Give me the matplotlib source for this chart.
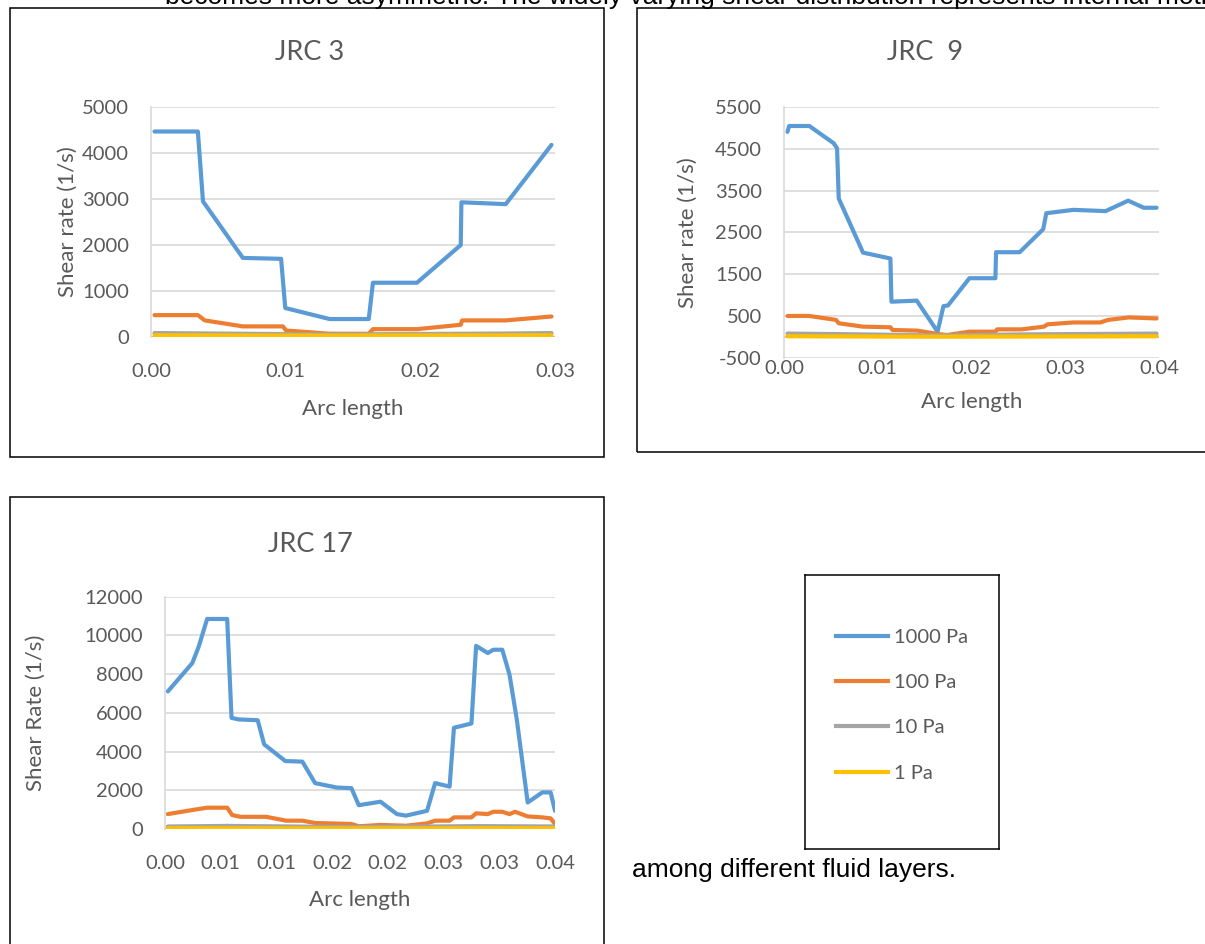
import matplotlib.pyplot as plt
from matplotlib.patches import Rectangle
from matplotlib.lines import Line2D

plt.rcParams['axes.unicode_minus'] = False

W, H = 1205, 944

# series colours (Office palette)
C1000 = '#5B9BD5'
C100 = '#ED7D31'
C10 = '#A5A5A5'
C1 = '#FFC000'

# ---- JRC 3 ----
jrc3_x1000 = [0.00026, 0.00348, 0.00386, 0.00682, 0.00966, 0.00997, 0.01326, 0.01617,
              0.01648, 0.01975, 0.02300, 0.02305, 0.02634, 0.02974]
jrc3_1000 = [4460, 4460, 2940, 1710, 1690, 620, 380, 380, 1170, 1170, 1990, 2920, 2880, 4170]
jrc3_x100 = [0.00026, 0.00348, 0.00400, 0.00682, 0.00979, 0.01004, 0.01326, 0.01617,
             0.01648, 0.01975, 0.02300, 0.02310, 0.02634, 0.02974]
jrc3_100 = [465, 465, 350, 220, 220, 130, 60, 60, 160, 160, 255, 350, 350, 435]
jrc3_x10 = [0.00026, 0.00682, 0.01326, 0.01975, 0.02634, 0.02974]
jrc3_10 = [75, 60, 45, 55, 65, 75]
jrc3_x1 = [0.00026, 0.01326, 0.02974]
jrc3_1 = [25, 20, 25]

# ---- JRC 9 ----
jrc9_x1000 = [0.00037, 0.00055, 0.00270, 0.00529, 0.00566, 0.00584, 0.00843, 0.01135,
              0.01146, 0.01416, 0.01638, 0.01701, 0.01749, 0.01978, 0.02255, 0.02262,
              0.02514, 0.02765, 0.02798, 0.03087, 0.03431, 0.03671, 0.03837, 0.03974]
jrc9_1000 = [4900, 5040, 5040, 4630, 4510, 3310, 2020, 1880, 850, 875, 135, 745, 760,
             1410, 1410, 2030, 2030, 2580, 2960, 3040, 3010, 3260, 3090, 3090]
jrc9_x100 = [0.00037, 0.00270, 0.00555, 0.00584, 0.00843, 0.01135, 0.01157, 0.01423,
             0.01638, 0.01738, 0.01978, 0.02255, 0.02274, 0.02533, 0.02773, 0.02810,
             0.03087, 0.03375, 0.03456, 0.03678, 0.03974]
jrc9_100 = [510, 510, 415, 335, 255, 240, 175, 160, 80, 55, 135, 135, 190, 190, 255,
            310, 355, 355, 415, 475, 450]
jrc9_x10 = [0.00037, 0.00843, 0.01638, 0.02533, 0.03974]
jrc9_10 = [90, 70, 45, 70, 90]
jrc9_x1 = [0.00037, 0.01638, 0.03974]
jrc9_1 = [25, 15, 25]

# ---- JRC 17 ----
jrc17_x1000 = [0.00026, 0.00245, 0.00303, 0.00378, 0.00558, 0.00597, 0.00662, 0.00832,
               0.00890, 0.01080, 0.01233, 0.01347, 0.01543, 0.01673, 0.01739, 0.01934,
               0.02081, 0.02163, 0.02352, 0.02424, 0.02554, 0.02593, 0.02750, 0.02792,
               0.02897, 0.02946, 0.03027, 0.03092, 0.03157, 0.03255, 0.03386, 0.03461,
               0.03500]
jrc17_1000 = [7110, 8570, 9430, 10850, 10850, 5740, 5660, 5620, 4370, 3510, 3480, 2370,
              2140, 2110, 1230, 1410, 770, 690, 940, 2370, 2190, 5230, 5450, 9460, 9090,
              9260, 9260, 7970, 5660, 1370, 1890, 1890, 940]
jrc17_x100 = [0.00026, 0.00245, 0.00378, 0.00558, 0.00603, 0.00678, 0.00907, 0.01087,
              0.01233, 0.01347, 0.01673, 0.01739, 0.01934, 0.02163, 0.02352, 0.02424,
              0.02554, 0.02593, 0.02750, 0.02792, 0.02897, 0.02946, 0.03027, 0.03092,
              0.03141, 0.03255, 0.03386, 0.03461, 0.03500]
jrc17_100 = [770, 980, 1100, 1100, 720, 630, 630, 430, 430, 310, 260, 140, 210, 170,
             290, 430, 430, 600, 600, 810, 770, 890, 890, 770, 890, 650, 600, 550, 260]
jrc17_x10 = [0.00026, 0.00558, 0.01739, 0.02792, 0.03500]
jrc17_10 = [130, 160, 100, 150, 130]
jrc17_x1 = [0.00026, 0.01739, 0.03500]
jrc17_1 = [40, 30, 40]

series_labels = ['1000 Pa', '100 Pa', '10 Pa', '1 Pa']

fig = plt.figure(figsize=(W / 100, H / 100), dpi=100)
fig.patch.set_facecolor('white')

FONT = 'Lato'
TICK = '#595959'


def fx(x):
    return x / W


def fy(y):
    return 1 - y / H


def box(l, t, r, b):
    fig.add_artist(Rectangle((fx(l), fy(b)), fx(r - l), (b - t) / H, fill=False,
                             edgecolor='black', linewidth=1.1,
                             transform=fig.transFigure))


def chart(plot, xs, ys, xlim, ylim, yticks, xticks, xticklabels, title, title_xy,
          ylabel, ylabel_x, xlabel_y, xpad):
    l, t, r, b = plot
    ax = fig.add_axes([fx(l), fy(b), fx(r - l), (b - t) / H])
    for x, y, c in zip(xs, ys, [C1000, C100, C10, C1]):
        ax.plot(x, y, color=c, linewidth=3, solid_joinstyle='round',
                solid_capstyle='round', zorder=3)
    ax.set_xlim(*xlim)
    ax.set_ylim(*ylim)
    ax.set_yticks(yticks)
    ax.set_xticks(xticks)
    ax.set_xticklabels(xticklabels)
    ax.grid(axis='y', color='#D9D9D9', linewidth=1.2)
    ax.set_axisbelow(True)
    for s in ['top', 'right', 'bottom']:
        ax.spines[s].set_visible(False)
    ax.spines['left'].set_color('#D9D9D9')
    ax.spines['left'].set_linewidth(1.2)
    ax.axhline(0, color='#BFBFBF', linewidth=1.3, zorder=2)
    ax.tick_params(length=0, labelsize=14.5, labelcolor=TICK)
    ax.tick_params(axis='y', pad=16)
    ax.tick_params(axis='x', pad=xpad)
    for lab in ax.get_xticklabels() + ax.get_yticklabels():
        lab.set_fontfamily(FONT)
    ax.set_ylabel(ylabel, fontsize=16, color=TICK, fontfamily=FONT)
    ax.yaxis.label.set_va('center')
    ax.yaxis.set_label_coords((ylabel_x - l) / (r - l), 0.5)
    ax.set_xlabel('Arc length', fontsize=16, color=TICK, fontfamily=FONT)
    ax.xaxis.label.set_va('center')
    ax.xaxis.set_label_coords(0.5, (b - xlabel_y) / (b - t))
    fig.text(fx(title_xy[0]), fy(title_xy[1]), title, fontsize=19.5, color=TICK,
             fontfamily=FONT, ha='center', va='center')
    return ax


# text of the surrounding page
fig.text(fx(165), fy(4), 'becomes more asymmetric. The widely varying shear distribution '
         'represents internal motion', fontsize=19, fontfamily='Liberation Sans',
         color='black', ha='left', va='baseline')
fig.text(fx(632), fy(870), 'among different fluid layers.', fontsize=19,
         fontfamily='Liberation Sans', color='black', ha='left', va='center')

box(10, 8, 604, 457)
box(637, 8, 1212, 452)
box(10, 497, 604, 952)

ax1 = chart((151, 106.7, 555, 336.5),
            [jrc3_x1000, jrc3_x100, jrc3_x10, jrc3_x1],
            [jrc3_1000, jrc3_100, jrc3_10, jrc3_1],
            (0, 0.03), (0, 5000), range(0, 5001, 1000),
            [0, 0.01, 0.02, 0.03], ['0.00', '0.01', '0.02', '0.03'],
            'JRC 3', (310, 52), 'Shear rate (1/s)', 68, 409, 19)

ax2 = chart((784, 106.7, 1159, 358.3),
            [jrc9_x1000, jrc9_x100, jrc9_x10, jrc9_x1],
            [jrc9_1000, jrc9_100, jrc9_10, jrc9_1],
            (0, 0.04), (-500, 5500), range(-500, 5501, 1000),
            [0, 0.01, 0.02, 0.03, 0.04], ['0.00', '0.01', '0.02', '0.03', '0.04'],
            'JRC  9', (925, 52), 'Shear rate (1/s)', 688, 402, 1)

ax3 = chart((165, 596.7, 555, 829),
            [jrc17_x1000, jrc17_x100, jrc17_x10, jrc17_x1],
            [jrc17_1000, jrc17_100, jrc17_10, jrc17_1],
            (0, 0.035), (0, 12000), range(0, 12001, 2000),
            [0, 0.005, 0.01, 0.015, 0.02, 0.025, 0.03, 0.035],
            ['0.00', '0.01', '0.01', '0.02', '0.02', '0.03', '0.03', '0.04'],
            'JRC 17', (310, 545), 'Shear Rate (1/s)', 36, 900, 19)

# shared legend in its own framed box
lax = fig.add_axes([fx(805), fy(849), fx(999 - 805), (849 - 575) / H])
lax.set_xticks([])
lax.set_yticks([])
for s in lax.spines.values():
    s.set_color('black')
    s.set_linewidth(1.1)
handles = [Line2D([], [], color=c, linewidth=3) for c in [C1000, C100, C10, C1]]
leg = lax.legend(handles, series_labels, loc='center', bbox_to_anchor=(0.5, 0.525),
                 frameon=False, prop={'family': FONT, 'size': 14.5}, labelcolor=TICK,
                 handlelength=2.6, handletextpad=0.3, labelspacing=1.4)

fig.savefig('out.png', dpi=100)
